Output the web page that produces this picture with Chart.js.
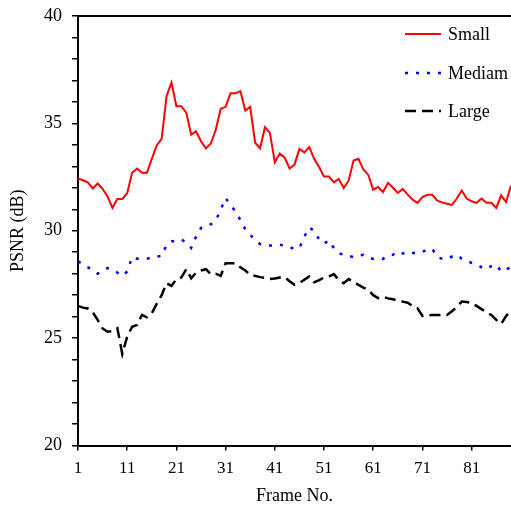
<!DOCTYPE html>
<html>
<head>
<meta charset="utf-8">
<script src="https://cdn.jsdelivr.net/npm/chart.js@4"></script>
<style>
  html, body { margin: 0; padding: 0; background: #fff; }
  #wrap { width: 511px; height: 510px; }
</style>
</head>
<body>
<div id="wrap"><canvas id="psnrChart" width="511" height="510"></canvas></div>
<script>
// frame numbers 1..89
const frames = [];
for (let i = 1; i <= 89; i++) frames.push(i);

const smallPsnr = [
  32.43, 32.35, 32.25, 31.97, 32.2, 31.95, 31.6, 31.06, 31.48, 31.48,
  31.75, 32.7, 32.9, 32.7, 32.7, 33.35, 33.97, 34.28, 36.27, 36.9,
  35.8, 35.8, 35.5, 34.48, 34.63, 34.17, 33.83, 34.06, 34.7, 35.68,
  35.77, 36.4, 36.4, 36.5, 35.6, 35.77, 34.1, 33.84, 34.82, 34.56,
  33.19, 33.6, 33.4, 32.9, 33.08, 33.81, 33.65, 33.9, 33.35, 32.97,
  32.53, 32.53, 32.25, 32.41, 31.99, 32.33, 33.27, 33.35, 32.85, 32.6,
  31.91, 32.04, 31.8, 32.23, 32.0, 31.76, 31.95, 31.68, 31.45, 31.3,
  31.57, 31.68, 31.68, 31.4, 31.32, 31.26, 31.2, 31.5, 31.87, 31.5,
  31.37, 31.3, 31.5, 31.3, 31.3, 31.06, 31.65, 31.34, 32.1
];

const mediamPsnr = [
  28.57, 28.45, 28.3, 28.15, 28.0, 28.15, 28.26, 28.2, 28.05, 27.9,
  28.1, 28.77, 28.7, 28.68, 28.7, 28.75, 28.8, 28.83, 29.35, 29.5,
  29.55, 29.6, 29.45, 29.2, 29.73, 30.13, 30.25, 30.3, 30.48, 30.98,
  31.52, 31.2, 30.9, 30.5, 30.08, 29.8, 29.6, 29.38, 29.32, 29.31,
  29.33, 29.35, 29.3, 29.2, 29.2, 29.2, 29.73, 30.15, 30.0, 29.6,
  29.4, 29.55, 29.2, 28.95, 28.88, 28.83, 28.77, 28.85, 28.88, 28.75,
  28.69, 28.69, 28.69, 28.85, 28.88, 29.03, 28.95, 28.88, 28.95, 29.03,
  29.03, 29.1, 29.16, 28.77, 28.7, 28.68, 28.8, 28.88, 28.7, 28.6,
  28.5, 28.42, 28.3, 28.21, 28.35, 28.42, 28.1, 28.2, 28.3
];

const largePsnr = [
  26.5, 26.42, 26.38, 26.2, 25.85, 25.45, 25.3, 25.32, 25.46, 24.26,
  25.07, 25.53, 25.61, 26.08, 25.97, 26.16, 26.6, 27.0, 27.56, 27.43,
  27.75, 27.82, 28.21, 27.79, 28.05, 28.15, 28.21, 27.98, 28.0, 27.9,
  28.49, 28.49, 28.49, 28.3, 28.15, 27.95, 27.9, 27.84, 27.8, 27.75,
  27.78, 27.82, 27.84, 27.65, 27.48, 27.56, 27.72, 27.87, 27.6, 27.7,
  27.82, 27.87, 27.98, 27.7, 27.56, 27.75, 27.62, 27.48, 27.35, 27.25,
  27.0, 26.86, 26.93, 26.85, 26.81, 26.75, 26.7, 26.65, 26.5, 26.39,
  26.03, 26.06, 26.08, 26.08, 26.08, 26.08, 26.25, 26.45, 26.7, 26.68,
  26.63, 26.5, 26.35, 26.2, 26.08, 25.85, 25.66, 26.03, 26.3
];

const seriesNames = ['Small', 'Mediam', 'Large'];
const yTickLabels = [20, 25, 30, 35, 40];

const serif = "'Liberation Serif', 'Times New Roman', serif";

// legend drawn at the top right inside the plot, plus the top frame line
const boxPlugin = {
  id: 'boxLegend',
  afterDraw(chart) {
    const ctx = chart.ctx;
    const area = chart.chartArea;
    ctx.save();
    ctx.strokeStyle = '#000';
    ctx.lineWidth = 2;
    ctx.beginPath();
    ctx.moveTo(area.left, area.top);
    ctx.lineTo(chart.width, area.top);
    ctx.stroke();

    const rows = [34, 73, 111];
    chart.data.datasets.forEach((ds, i) => {
      const y = rows[i];
      ctx.strokeStyle = ds.borderColor;
      ctx.lineWidth = ds.borderWidth;
      ctx.setLineDash(ds.borderDash || []);
      ctx.beginPath();
      ctx.moveTo(405, y);
      ctx.lineTo(441, y);
      ctx.stroke();
      ctx.setLineDash([]);
      ctx.fillStyle = '#000';
      ctx.font = '18px ' + serif;
      ctx.textBaseline = 'middle';
      ctx.textAlign = 'left';
      ctx.fillText(ds.label, 448, y + 1);
    });
    ctx.restore();
  }
};

document.addEventListener('DOMContentLoaded', function() {
  const ctx = document.getElementById('psnrChart').getContext('2d');

  new Chart(ctx, {
    type: 'line',
    data: {
      labels: frames,
      datasets: [{
        label: seriesNames[0],
        data: smallPsnr,
        borderColor: '#ff0000',
        borderWidth: 2,
        pointRadius: 0,
        tension: 0
      }, {
        label: seriesNames[1],
        data: mediamPsnr,
        borderColor: '#0000ff',
        borderWidth: 2.5,
        borderDash: [3, 8],
        pointRadius: 0,
        tension: 0
      }, {
        label: seriesNames[2],
        data: largePsnr,
        borderColor: '#000000',
        borderWidth: 2.5,
        borderDash: [11, 6],
        pointRadius: 0,
        tension: 0
      }]
    },
    options: {
      responsive: false,
      animation: false,
      layout: { padding: { top: 16, right: 0, left: 0, bottom: 0 } },
      plugins: {
        legend: { display: false },
        tooltip: { enabled: false }
      },
      scales: {
        x: {
          type: 'category',
          offset: false,
          border: { display: true, color: '#000', width: 2 },
          grid: { display: true, drawOnChartArea: false, color: '#000', lineWidth: 1.5, tickLength: 5 },
          ticks: {
            autoSkip: false,
            maxRotation: 0,
            padding: 8,
            color: '#000',
            font: { family: serif, size: 17 },
            callback: function(value, index) {
              return (frames[index] - 1) % 10 === 0 ? String(frames[index]) : null;
            }
          },
          title: {
            display: true,
            text: 'Frame No.',
            color: '#000',
            font: { family: serif, size: 18 },
            padding: { top: 4, bottom: 3 }
          },
          afterFit: function(scale) { scale.height = 64.5; }
        },
        y: {
          min: 20,
          max: 40,
          border: { display: true, color: '#000', width: 2 },
          grid: { display: true, drawOnChartArea: false, color: '#000', lineWidth: 1.5, tickLength: 6 },
          ticks: {
            stepSize: 1,
            autoSkip: false,
            padding: 10,
            color: '#000',
            font: { family: serif, size: 18 },
            callback: function(value) {
              return yTickLabels.includes(value) ? String(value) : '';
            }
          },
          title: {
            display: true,
            text: 'PSNR (dB)',
            color: '#000',
            font: { family: serif, size: 18 },
            padding: { top: 7, bottom: 0 }
          },
          afterFit: function(scale) {
            scale.width = 78;
            scale.paddingTop = 0;
            scale.paddingBottom = 0;
          }
        }
      }
    },
    plugins: [boxPlugin]
  });
});
</script>
</body>
</html>
